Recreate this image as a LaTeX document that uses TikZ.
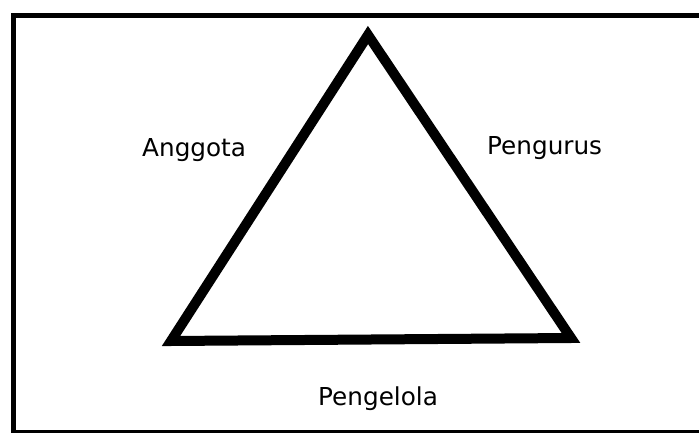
\documentclass[tikz,border=0pt]{standalone}
\usepackage{fontspec}
\setmainfont{DejaVu Sans}
\begin{document}
\begin{tikzpicture}[x=1pt,y=-1pt,line join=miter]
    \useasboundingbox (0,0) rectangle (699,433);
    % frame, only three sides
    \draw[line width=4.5pt] (699,15.5)--(13.5,15.5)--(13.5,433);
    \draw[line width=3pt] (13.5,431)--(699,431);

    \coordinate (apex) at (368,35);
    \coordinate (bl) at (171,341);
    \coordinate (br) at (571,338);
    \draw[line width=10pt] (apex)--(bl)--(br)--cycle;

    \node[anchor=base west,inner sep=0pt,font=\fontsize{24.7}{30}\selectfont] (anggota) at (142,157) {Anggota};
    \node[anchor=base west,inner sep=0pt,font=\fontsize{24.7}{30}\selectfont] (pengurus) at (487,155) {Pengurus};
    \node[anchor=base west,inner sep=0pt,font=\fontsize{24.7}{30}\selectfont] (pengelola) at (318,405) {Pengelola};
\end{tikzpicture}
\end{document}
